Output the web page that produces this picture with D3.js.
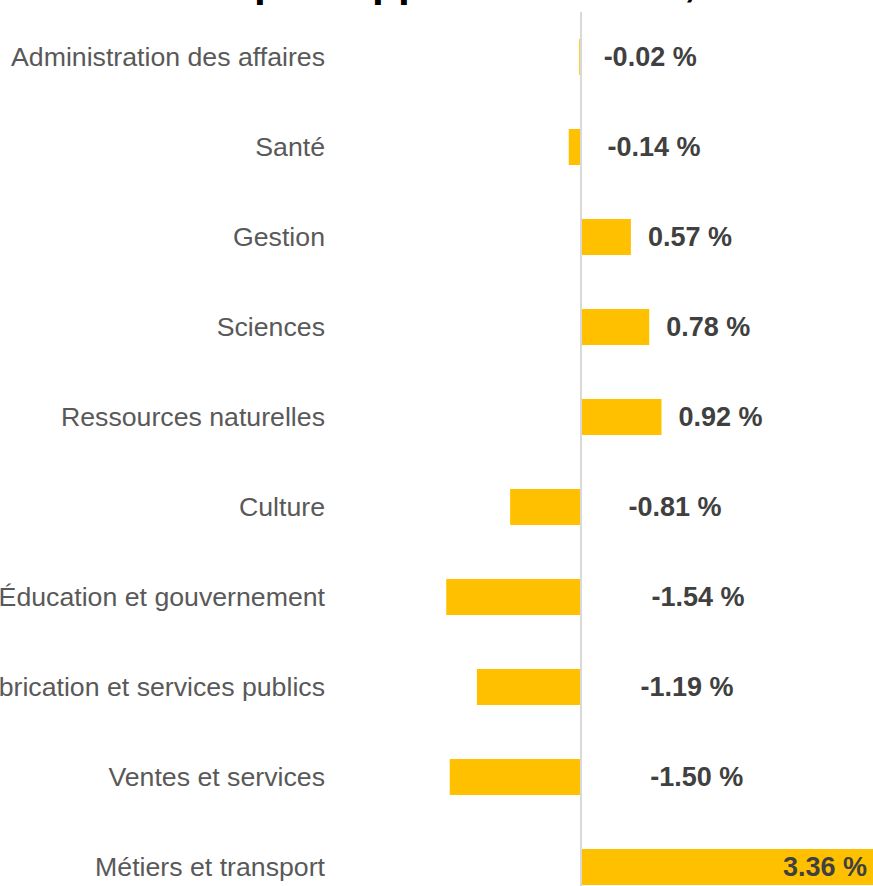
<!DOCTYPE html>
<html><head><meta charset="utf-8">
<script src="https://cdn.jsdelivr.net/npm/d3@7"></script>
<style>html,body{margin:0;padding:0;background:#fff;overflow:hidden}</style>
</head><body>
<svg id="chart" width="873" height="886"></svg>
<script>
const categories = ["Administration des affaires","Santé","Gestion","Sciences","Ressources naturelles","Culture","Éducation et gouvernement","Fabrication et services publics","Ventes et services","Métiers et transport"];
const values = [-0.02,-0.14,0.57,0.78,0.92,-0.81,-1.54,-1.19,-1.50,3.36];
const titleText = "Variation relative par rapport à 2022-23, selon le secteur";

const svg = d3.select("#chart");
const W = 873, H = 886;
const x = d3.scaleLinear().domain([-2, 3.36]).range([406, 875]);
const y = d3.scaleBand().domain(categories).range([12, 912]).paddingInner(0.6).paddingOuter(0.3);
const x0 = x(0);

svg.append("text").attr("x", -98).attr("y", -4)
  .attr("font-family", "Liberation Sans, Arial, sans-serif").attr("font-weight", "bold")
  .attr("font-size", 42.5).attr("fill", "#000").text(titleText);

svg.append("g").selectAll("rect").data(values).join("rect")
  .attr("x", d => Math.min(x(d), x0)).attr("y", (d,i) => y(categories[i]))
  .attr("width", d => Math.abs(x(d) - x0)).attr("height", y.bandwidth())
  .attr("fill", "#FFC000");

svg.append("line").attr("x1", x0).attr("x2", x0).attr("y1", 12).attr("y2", H)
  .attr("stroke", "#d9d9d9").attr("stroke-width", 2);

svg.append("g").selectAll("text").data(categories).join("text")
  .attr("x", 325).attr("y", d => y(d) + y.bandwidth()/2).attr("dy", "0.35em")
  .attr("text-anchor", "end").attr("font-family", "Liberation Sans, Arial, sans-serif")
  .attr("font-size", 26.7).attr("fill", "#595959").text(d => d);

const fmt = d => d.toFixed(2) + " %";
svg.append("g").selectAll("text").data(values).join("text")
  .attr("x", d => {
    if (d >= 3) return x(d) - 8;
    if (d >= 0) return x(d) + 17;
    return x0 + 22 + 0.36 * Math.abs(x(d) - x0);
  })
  .attr("y", (d,i) => y(categories[i]) + y.bandwidth()/2).attr("dy", "0.35em")
  .attr("text-anchor", d => d >= 3 ? "end" : "start")
  .attr("font-family", "Liberation Sans, Arial, sans-serif").attr("font-weight", "bold")
  .attr("font-size", 27).attr("fill", "#404040").text(fmt);
</script>
</body></html>
